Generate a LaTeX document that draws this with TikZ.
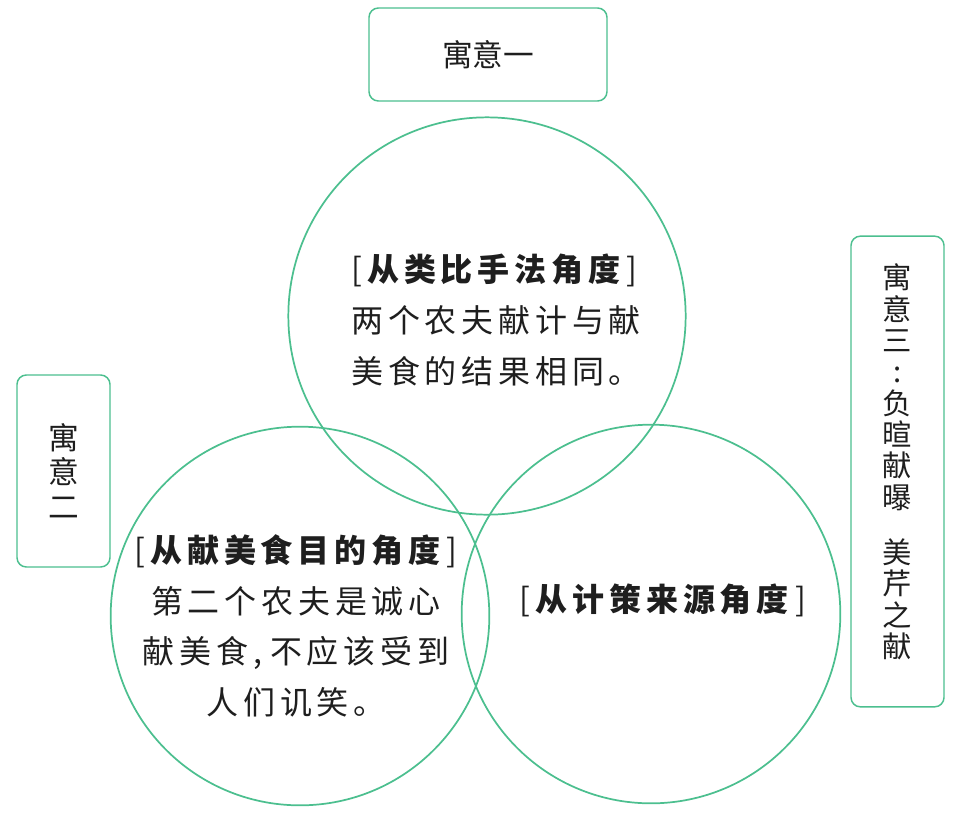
\documentclass[tikz,border=0pt]{standalone}
\usepackage{fontspec}
\newfontfamily\cjk{Noto Sans CJK SC}
\newfontfamily\cjkwide[LetterSpace=15]{Noto Sans CJK SC}
\usepackage{tikz}
\usetikzlibrary{positioning}
\definecolor{cring}{HTML}{4CBF8F}
\definecolor{cink}{HTML}{1E1E1E}
\newcommand{\bracketed}[1]{{\mdseries\cjk[}\hspace{4pt}{\bfseries #1}\hspace{5pt}{\mdseries\cjk]}}
\tikzset{
  ring/.style={circle, draw=cring, line width=1.3pt, inner sep=0pt},
  tagbox/.style={draw=cring, line width=1.1pt, rounded corners=7pt, inner sep=0pt, align=center, text=cink,
    font=\cjk\fontsize{23}{26}\selectfont},
  vtext/.style={align=center, text=cink, inner sep=0pt, font=\cjk\fontsize{22}{23.5}\selectfont},
  txt/.style={text=cink, inner sep=0pt, font=\cjkwide\fontsize{24}{38}\selectfont},
}

\begin{document}
\begin{tikzpicture}[x=0.75pt,y=-0.75pt]
\useasboundingbox (0,0) rectangle (972,815);
% the three circles
\node[ring, minimum size=298pt] (top) at (487,316) {};
\node[ring, minimum size=284pt] (left) at (300,616) {};
\node[ring, minimum size=284pt] (right) at (651,614) {};
% labels round the circles
\node[tagbox, minimum width=178.5pt, minimum height=69.75pt] (meaning1) at (488,54.5) {寓意一};
\node[tagbox, minimum width=69.75pt, minimum height=144pt] (meaning2) at (63.5,471) {寓\\意\\二};
\node[tagbox, minimum width=69.75pt, minimum height=353pt] (meaning3) at (897.5,471.5) {};
\node[vtext] (meaning3text) at (897.5,462)
  {寓\\意\\三\\:\\负\\暄\\献\\曝\\[18pt]美\\芹\\之\\献};
% texts in the circles
\node[txt, align=left] (analogy) at (496,320)
  {\bracketed{从类比手法角度}\\两个农夫献计与献\\美食的结果相同。};
\node[txt, align=center] (purpose) at (296,626)
  {\bracketed{从献美食目的角度}\\第二个农夫是诚心\\献美食,\hspace{6pt}不应该受到\\人们讥笑。};
\node[txt] (source) at (663,600) {\bracketed{从计策来源角度}};
\end{tikzpicture}
\end{document}
